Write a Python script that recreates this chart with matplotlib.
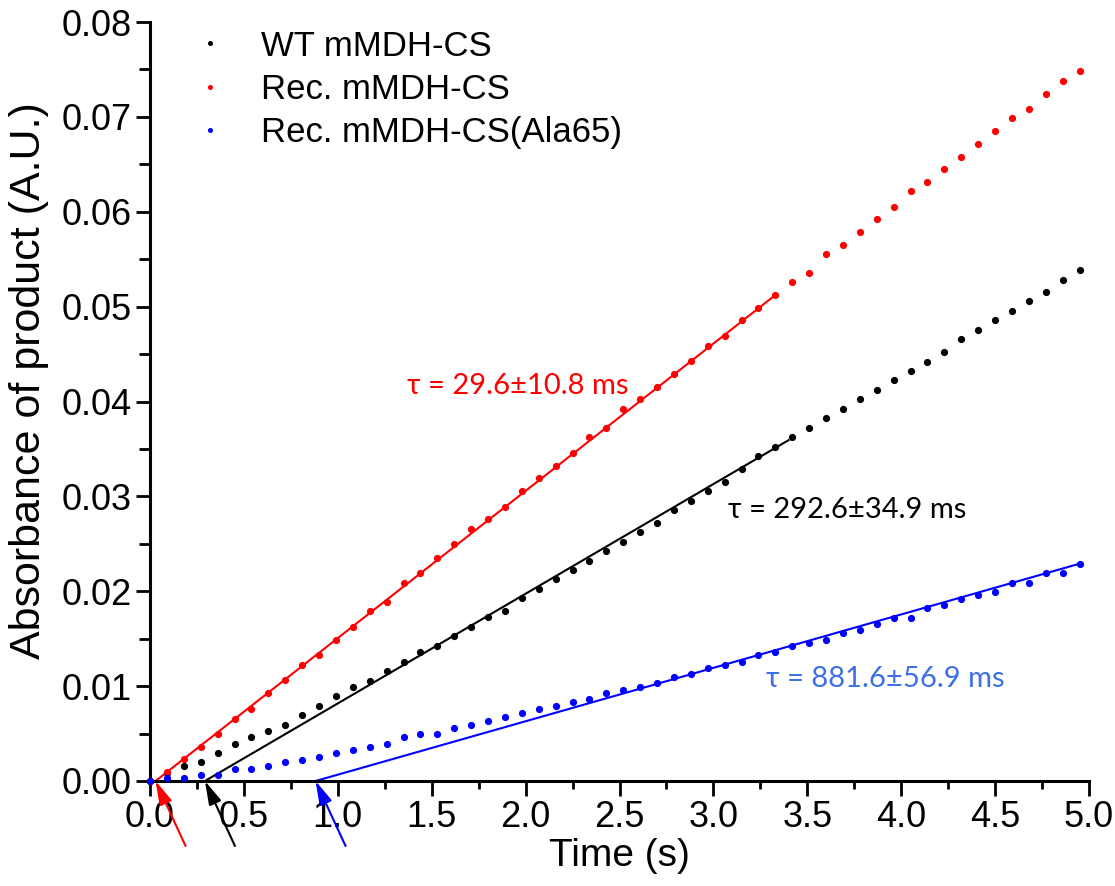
import numpy as np
import matplotlib
matplotlib.use("Agg")
import matplotlib.pyplot as plt
from matplotlib.ticker import MultipleLocator, FormatStrFormatter

# Stopped-flow traces: product absorbance sampled every 90 ms
sample_interval = 0.09
time_s = np.arange(56) * sample_interval

wt_abs = [0.0, 0.0008, 0.00158, 0.00197, 0.00295, 0.00393, 0.00460, 0.00527,
          0.00594, 0.00692, 0.00790, 0.00892, 0.00991, 0.01057, 0.01156, 0.01258,
          0.01359, 0.01423, 0.01525, 0.01624, 0.01725, 0.01791, 0.01925, 0.02027,
          0.02125, 0.02223, 0.02322, 0.02424, 0.02522, 0.02624, 0.02722, 0.02856,
          0.02954, 0.03056, 0.03154, 0.03288, 0.03422, 0.03520, 0.03622, 0.03723,
          0.03822, 0.03924, 0.04025, 0.04120, 0.04222, 0.04320, 0.04418, 0.04520,
          0.04654, 0.04752, 0.04855, 0.04953, 0.05055, 0.05153, 0.05280, 0.05385]

rec_abs = [0.0, 0.00098, 0.00229, 0.00362, 0.00495, 0.00657, 0.00759, 0.00924,
           0.01061, 0.01226, 0.01325, 0.01490, 0.01626, 0.01791, 0.01890, 0.02090,
           0.02188, 0.02350, 0.02500, 0.02652, 0.02757, 0.02891, 0.03056, 0.03189,
           0.03323, 0.03456, 0.03624, 0.03723, 0.03920, 0.04025, 0.04155, 0.04289,
           0.04422, 0.04587, 0.04689, 0.04855, 0.04988, 0.05121, 0.05255, 0.05356,
           0.05553, 0.05652, 0.05785, 0.05919, 0.06052, 0.06217, 0.06315, 0.06452,
           0.06582, 0.06716, 0.06853, 0.06983, 0.07081, 0.07246, 0.07383, 0.07482]

ala65_abs = [0.0, 0.00028, 0.00028, 0.00060, 0.00060, 0.00126, 0.00126, 0.00158,
             0.00197, 0.00225, 0.00256, 0.00295, 0.00327, 0.00362, 0.00393, 0.00460,
             0.00492, 0.00492, 0.00562, 0.00590, 0.00630, 0.00670, 0.00715, 0.00755,
             0.00795, 0.00829, 0.00860, 0.00924, 0.00959, 0.00994, 0.01029, 0.01091,
             0.01126, 0.01192, 0.01223, 0.01256, 0.01323, 0.01359, 0.01421, 0.01457,
             0.01486, 0.01556, 0.01588, 0.01658, 0.01721, 0.01721, 0.01820, 0.01855,
             0.01918, 0.01957, 0.01988, 0.02090, 0.02086, 0.02188, 0.02188, 0.02290]

series_labels = ["WT mMDH-CS", "Rec. mMDH-CS", "Rec. mMDH-CS(Ala65)"]
series_colors = ["black", "#ff0000", "#0000ff"]

# Linear steady-state fits: A(t) = slope * (t - lag), lag time tau in seconds
lag_s = [0.2926, 0.0296, 0.8816]
lag_err_ms = [34.9, 10.8, 56.9]
fit_slope = [0.01156, 0.01552, 0.00563]
fit_end_s = [3.40, 3.33, 4.95]
tau_text_colors = ["black", "#ff0000", "#3d6fe6"]
tau_text_pos = [(3.08, 0.0286), (1.37, 0.0416), (3.28, 0.0108)]

W, H = 1115, 886
fig = plt.figure(figsize=(W / 100, H / 100), dpi=100)
ax = fig.add_axes([150 / W, 1 - 781 / H, (1089 - 150) / W, (781 - 22) / H])

traces = [wt_abs, rec_abs, ala65_abs]
handles = []
for y, c, lab in zip(traces, series_colors, series_labels):
    h, = ax.plot(time_s, y, linestyle="none", marker="o", ms=5.2, mew=0,
                 color=c, label=lab, clip_on=False, zorder=3)
    handles.append(h)

for tau, k, t_end, c in zip(lag_s, fit_slope, fit_end_s, series_colors):
    t_fit = np.array([tau, t_end])
    ax.plot(t_fit, k * (t_fit - tau), color=c, lw=1.5, zorder=2, clip_on=False)

for tau, err, c, (tx, ty) in zip(lag_s, lag_err_ms, tau_text_colors, tau_text_pos):
    ax.text(tx, ty, f"\u03c4 = {tau * 1000:.1f}\u00b1{err:.1f} ms", color=c,
            fontsize=21, family=["Lato", "DejaVu Sans"], va="center", ha="left")

# Arrows marking each lag time on the time axis
for tau, c in zip(lag_s, series_colors):
    ax.annotate("", xy=(tau, 0), xycoords="data", xytext=(30, -65),
                textcoords="offset pixels", annotation_clip=False,
                arrowprops=dict(arrowstyle="-|>,head_length=0.8,head_width=0.22",
                                color=c, lw=1.5, mutation_scale=18,
                                shrinkA=0, shrinkB=0))

ax.set_xlim(0, 5.0)
ax.set_ylim(0, 0.08)
ax.xaxis.set_major_locator(MultipleLocator(0.5))
ax.xaxis.set_minor_locator(MultipleLocator(0.25))
ax.yaxis.set_major_locator(MultipleLocator(0.01))
ax.yaxis.set_minor_locator(MultipleLocator(0.005))
ax.xaxis.set_major_formatter(FormatStrFormatter("%.1f"))
ax.yaxis.set_major_formatter(FormatStrFormatter("%.2f"))

for side in ("top", "right"):
    ax.spines[side].set_visible(False)
for side in ("left", "bottom"):
    ax.spines[side].set_linewidth(2.2)

ax.tick_params(axis="x", which="major", direction="out", length=11, width=2, pad=3)
ax.tick_params(axis="x", which="minor", direction="out", length=6, width=2)
ax.tick_params(axis="y", which="major", direction="out", length=10, width=2, pad=3)
ax.tick_params(axis="y", which="minor", direction="out", length=8, width=2)
for lab in ax.get_xticklabels() + ax.get_yticklabels():
    lab.set_fontfamily("Liberation Sans")
    lab.set_fontsize(26)

ax.set_xlabel("Time (s)", fontdict={"family": "Liberation Sans", "size": 28}, labelpad=2)
ax.set_ylabel("Absorbance of product (A.U.)",
              fontdict={"family": "Liberation Sans", "size": 31})
ax.yaxis.set_label_coords(-0.108, 0.528)

leg = ax.legend(handles=handles, loc="upper left", bbox_to_anchor=(0.0458, 0.99),
                frameon=False, markerscale=0.7, handlelength=1.0,
                handletextpad=0.95, labelspacing=0.3, borderpad=0,
                borderaxespad=0,
                prop={"family": "Liberation Sans", "size": 25})

fig.savefig("out.png", dpi=100)
